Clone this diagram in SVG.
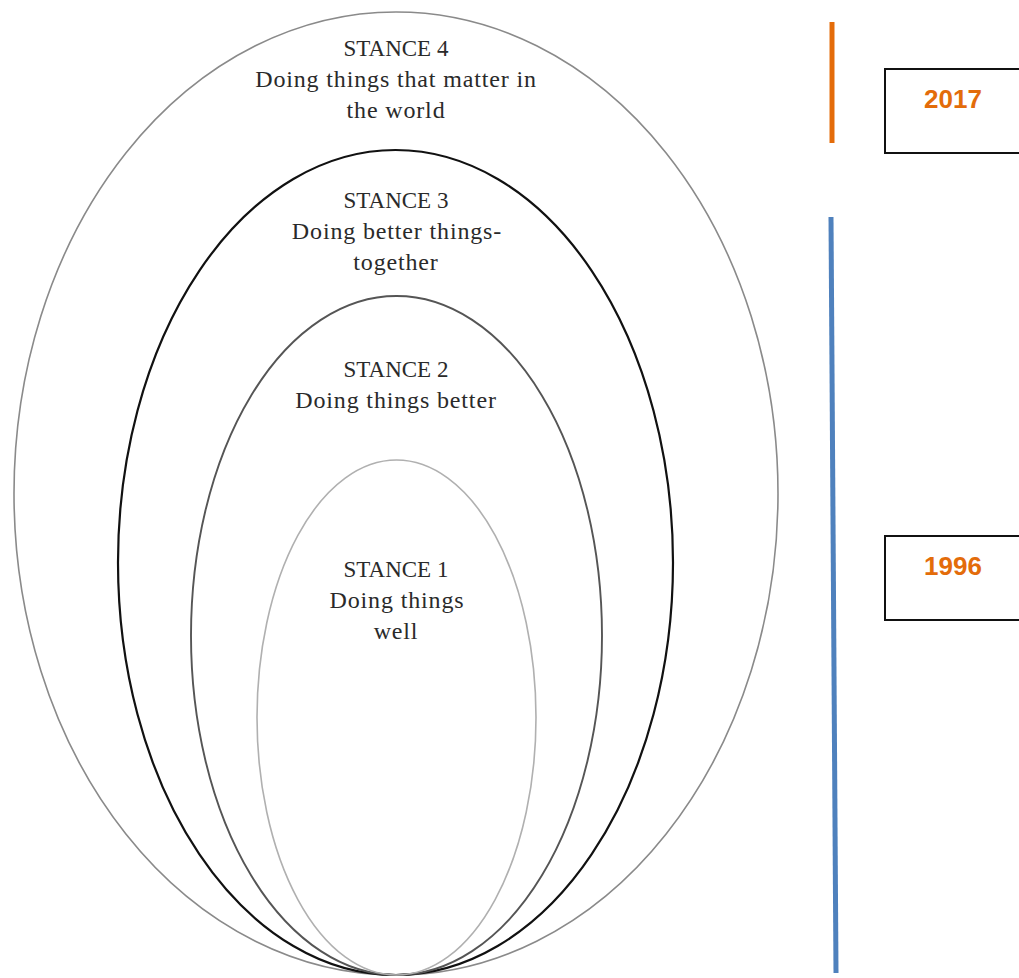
<svg xmlns="http://www.w3.org/2000/svg" width="1019" height="978" viewBox="0 0 1019 978">
<style>
.st{font-family:"Liberation Serif","DejaVu Serif",serif;font-size:23px;fill:#2a2a2a;text-anchor:middle}
.ds{font-size:24px;letter-spacing:0.85px}
.yr{font-family:"Liberation Sans",Arial,sans-serif;font-size:26px;font-weight:bold;fill:#E36C0A;text-anchor:middle}
.box{fill:#fff;stroke:#111;stroke-width:2}
.egg{fill:none}
</style>
<rect width="1019" height="978" fill="#fff"/>
<g id="stance4">
<ellipse class="egg" cx="396" cy="493.5" rx="382" ry="481.5" stroke="#8a8a8a" stroke-width="1.6"/>
<text class="st" x="396" y="56">STANCE 4</text>
<text class="st ds" x="396" y="87">Doing things that matter in</text>
<text class="st ds" x="396" y="118">the world</text>
</g>
<g id="stance3">
<ellipse class="egg" cx="395.5" cy="562.5" rx="277.5" ry="412.5" stroke="#111" stroke-width="2.2"/>
<text class="st" x="396" y="208">STANCE 3</text>
<text class="st ds" x="397" y="239">Doing better things-</text>
<text class="st ds" x="396" y="270">together</text>
</g>
<g id="stance2">
<ellipse class="egg" cx="396.5" cy="635.5" rx="205.5" ry="339.5" stroke="#555" stroke-width="1.9"/>
<text class="st" x="396" y="377">STANCE 2</text>
<text class="st ds" x="396" y="408">Doing things better</text>
</g>
<g id="stance1">
<ellipse class="egg" cx="396.5" cy="717.5" rx="139.5" ry="257.5" stroke="#b0b0b0" stroke-width="1.6"/>
<text class="st" x="396" y="577">STANCE 1</text>
<text class="st ds" x="397" y="608">Doing things</text>
<text class="st ds" x="396" y="639">well</text>
</g>
<g id="connectors">
<line x1="832" y1="22" x2="832" y2="143" stroke="#E46C0A" stroke-width="5"/>
<line x1="831" y1="217" x2="836" y2="973" stroke="#4F81BD" stroke-width="5"/>
</g>
<g id="year2017">
<rect class="box" x="885" y="69" width="140" height="84"/>
<text class="yr" x="953" y="108">2017</text>
</g>
<g id="year1996">
<rect class="box" x="885" y="536" width="140" height="84"/>
<text class="yr" x="953" y="575">1996</text>
</g>
</svg>
